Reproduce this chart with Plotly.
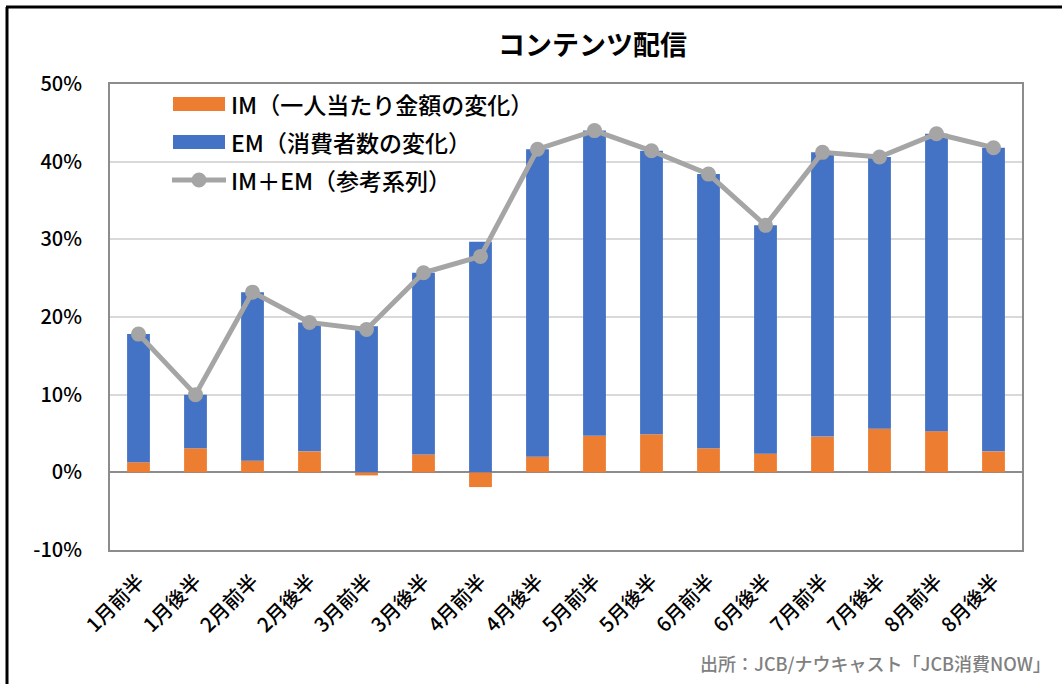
import plotly.graph_objects as go

categories = ["1月前半", "1月後半", "2月前半", "2月後半", "3月前半", "3月後半", "4月前半", "4月後半",
              "5月前半", "5月後半", "6月前半", "6月後半", "7月前半", "7月後半", "8月前半", "8月後半"]
im_values = [1.3, 3.1, 1.5, 2.7, -0.4, 2.3, -1.9, 2.0, 4.7, 4.9, 3.1, 2.4, 4.6, 5.6, 5.3, 2.7]
em_values = [16.5, 6.9, 21.7, 16.6, 18.8, 23.4, 29.7, 39.6, 39.3, 36.5, 35.3, 29.4, 36.6, 35.0, 38.3, 39.1]
total_values = [17.8, 10.0, 23.2, 19.3, 18.4, 25.7, 27.8, 41.6, 44.0, 41.4, 38.4, 31.8, 41.2, 40.6, 43.6, 41.8]
y_ticks = [-10, 0, 10, 20, 30, 40, 50]
y_tick_labels = ["-10%", "0%", "10%", "20%", "30%", "40%", "50%"]

title_text = "コンテンツ配信"
legend_labels = ["IM（一人当たり金額の変化）", "EM（消費者数の変化）", "IM＋EM（参考系列）"]
source_text = "出所：JCB/ナウキャスト「JCB消費NOW」"

ORANGE = "#ED7D31"
BLUE = "#4472C4"
GRAY = "#A5A5A5"
FONT = "Noto Sans CJK JP"

W, H = 1062, 684
L, R, T, B = 110, 1022, 84, 550


def px(x):
    return (x - L) / (R - L)


def py(y):
    return (B - y) / (B - T)


fig = go.Figure()
fig.add_trace(go.Bar(x=categories, y=im_values, marker=dict(color=ORANGE, line=dict(width=0)),
                     name=legend_labels[0], showlegend=False))
fig.add_trace(go.Bar(x=categories, y=em_values, marker=dict(color=BLUE, line=dict(width=0)),
                     name=legend_labels[1], showlegend=False))
fig.add_trace(go.Scatter(x=categories, y=total_values, mode="lines+markers",
                         line=dict(color=GRAY, width=5), marker=dict(color=GRAY, size=15),
                         name=legend_labels[2], showlegend=False))

shapes = []
annotations = []
# custom legend
rows = [104, 142, 180]
shapes.append(dict(type="rect", xref="paper", yref="paper", x0=px(173), x1=px(225),
                   y0=py(111), y1=py(97), fillcolor=ORANGE, line=dict(width=0)))
shapes.append(dict(type="rect", xref="paper", yref="paper", x0=px(173), x1=px(225),
                   y0=py(149), y1=py(135), fillcolor=BLUE, line=dict(width=0)))
shapes.append(dict(type="line", xref="paper", yref="paper", x0=px(172), x1=px(226),
                   y0=py(180), y1=py(180), line=dict(color=GRAY, width=5)))
shapes.append(dict(type="circle", xref="paper", yref="paper", x0=px(191.5), x1=px(206.5),
                   y0=py(187.5), y1=py(172.5), fillcolor=GRAY, line=dict(width=0)))
for lbl, ry in zip(legend_labels, rows):
    annotations.append(dict(text=lbl, xref="paper", yref="paper", x=px(229), y=py(ry),
                            xanchor="left", yanchor="middle", showarrow=False,
                            font=dict(family=FONT, size=23, color="#000000", weight=500)))

# outer chart border (left and top visible)
shapes.append(dict(type="line", xref="paper", yref="paper", x0=px(7), x1=px(7),
                   y0=py(700), y1=py(7), line=dict(color="#000000", width=3)))
shapes.append(dict(type="line", xref="paper", yref="paper", x0=px(6), x1=px(1080),
                   y0=py(7), y1=py(7), line=dict(color="#000000", width=3)))

annotations.append(dict(text=title_text, xref="paper", yref="paper", x=px(592), y=py(43),
                        xanchor="center", yanchor="middle", showarrow=False,
                        font=dict(family=FONT, size=27, color="#000000", weight="bold")))
annotations.append(dict(text=source_text, xref="paper", yref="paper", x=px(1053), y=py(663),
                        xanchor="right", yanchor="middle", showarrow=False,
                        font=dict(family=FONT, size=18, color="#808080", weight=500)))

fig.update_layout(
    width=W, height=H,
    margin=dict(l=L, r=W - R, t=T, b=H - B, autoexpand=False),
    barmode="relative",
    bargap=0.6,
    plot_bgcolor="#FFFFFF",
    paper_bgcolor="#FFFFFF",
    shapes=shapes,
    annotations=annotations,
    showlegend=False,
    font=dict(family=FONT, color="#000000"),
)
fig.update_xaxes(
    range=[-0.5, len(categories) - 0.5],
    tickangle=-45,
    tickfont=dict(family=FONT, size=20, color="#000000", weight=500),
    showline=True, mirror=True, linecolor="#8C8C8C", linewidth=2,
    showgrid=False, ticks="", ticklen=0, ticklabelstandoff=10,
)
fig.update_yaxes(
    range=[-10, 50],
    tickvals=y_ticks, ticktext=y_tick_labels,
    tickfont=dict(family=FONT, size=20, color="#000000", weight=500),
    showline=True, mirror=True, linecolor="#8C8C8C", linewidth=2,
    showgrid=True, gridcolor="#D9D9D9", gridwidth=2,
    zeroline=True, zerolinecolor="#8C8C8C", zerolinewidth=2,
    ticks="", ticklabelstandoff=22,
)

fig.write_html("out.html", config={"displayModeBar": False},
               post_script="document.body.style.margin='0px';document.body.style.overflow='hidden';")
